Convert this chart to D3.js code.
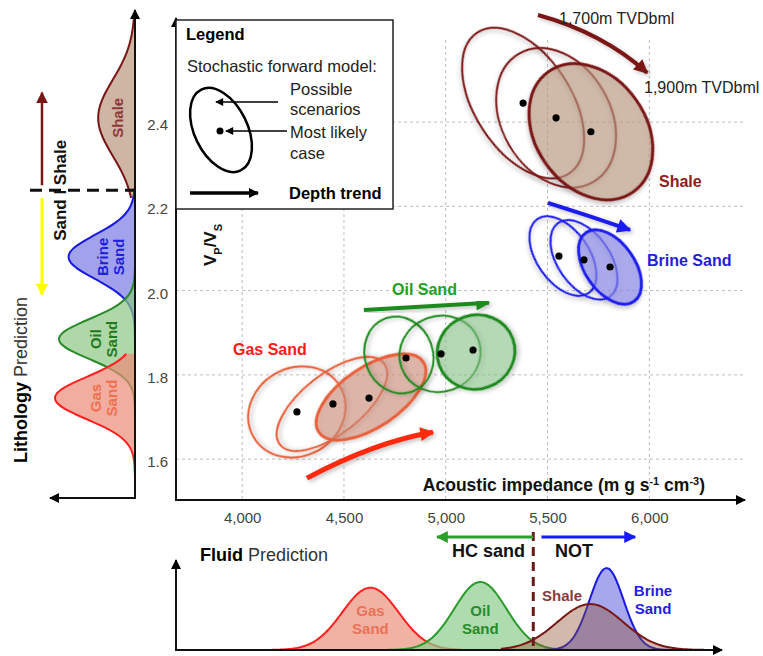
<!DOCTYPE html>
<html><head><meta charset="utf-8">
<script src="https://cdn.jsdelivr.net/npm/d3@7"></script>
<style>
body{margin:0;background:#fff;}
svg{display:block;font-family:"Liberation Sans",Arial,sans-serif;}
</style></head>
<body><svg id="c" width="763" height="656"></svg>
<script>
// ---------- DATA ----------
const xTicks = [4000, 4500, 5000, 5500, 6000];
const yTicks = [1.6, 1.8, 2.0, 2.2, 2.4];

// ellipses: [AI centre, Vp/Vs centre, AI spread, Vp/Vs spread, tilt(deg)]
const shaleEll = [[5380, 2.445, 413, 0.114, 57], [5542, 2.410, 364, 0.129, 60], [5713, 2.377, 361, 0.131, 55]];
const brineEll = [[5576, 2.082, 221, 0.062, 55], [5679, 2.073, 221, 0.062, 55], [5807, 2.056, 206, 0.059, 55]];
const oilEll   = [[4770, 1.847, 167, 0.0926, -20], [4972, 1.850, 201, 0.090, -20], [5149, 1.854, 192, 0.0878, -20]];
const gasEll   = [[4269, 1.712, 246, 0.1045, -30], [4441, 1.731, 324, 0.0712, -38], [4633, 1.7475, 309, 0.0712, -34]];

// most likely cases
const shaleDots = [[5380, 2.445], [5542, 2.410], [5713, 2.377]];
const brineDots = [[5556, 2.082], [5679, 2.073], [5807, 2.056]];
const oilDots   = [[4805, 1.840], [4977, 1.850], [5134, 1.859]];
const gasDots   = [[4269, 1.712], [4446, 1.731], [4623, 1.745]];

// depth trend arrows: start, control, end  (AI, Vp/Vs)
const shaleTrend = [[5453, 2.654], [5770, 2.612], [5989, 2.517]];
const brineTrend = [[5502, 2.208], [5700, 2.178], [5905, 2.144]];
const oilTrend   = [[4598, 1.954], [4900, 1.963], [5212, 1.971]];
const gasTrend   = [[4318, 1.555], [4652, 1.641], [4937, 1.664]];

// lithology prediction (Vp/Vs densities)
const lithNames  = ["Shale", "Brine Sand", "Oil Sand", "Gas Sand"];
const lithMeans  = [2.41, 2.080, 1.885, 1.745];
const lithSds    = [0.09, 0.052, 0.047, 0.05];
const lithPeaks  = [0.46, 0.83, 0.95, 1.0];
const lithRanges = [[2.22, 2.65], [1.85, 2.245], [1.68, 2.05], [1.55, 1.85]];

// fluid prediction (AI densities)
const fluidNames  = ["Gas Sand", "Oil Sand", "Brine Sand", "Shale"];
const fluidMeans  = [4630, 5170, 5790, 5710];
const fluidSds    = [138, 128, 84, 162];
const fluidPeaks  = [0.76, 0.83, 1.0, 0.56];
const fluidRanges = [[4038, 5080], [4608, 5605], [5384, 6268], [5271, 6288]];
const fluidCut = 5430;
const hcArrow = [5430, 4957];
const notArrow = [5470, 5930];

// ---------- CHART ----------
const svg = d3.select("#c");
const FONT = '"Liberation Sans",Arial,sans-serif';
const x = d3.scaleLinear().domain([3675, 6470]).range([176, 745]);
const y = d3.scaleLinear().domain([1.503, 2.647]).range([500, 18]);
const litW = d3.scaleLinear().domain([0, 1]).range([135, 55]);
const fluH = d3.scaleLinear().domain([0, 1]).range([650, 568]);

const defs = svg.append("defs");
function marker(id, color, w, h) {
  const m = defs.append("marker").attr("id", id).attr("markerUnits", "userSpaceOnUse")
    .attr("viewBox", "0 0 10 10").attr("refX", 9).attr("refY", 5)
    .attr("markerWidth", w).attr("markerHeight", h).attr("orient", "auto");
  m.append("path").attr("d", "M0,0 L10,5 L0,10 Z").attr("fill", color);
}
marker("mBlack", "#000", 11, 10);
marker("mBlackS", "#000", 9, 8);
marker("mShale", "#7a1515", 16, 14);
marker("mBrine", "#1a1aee", 16, 14);
marker("mOil", "#1f8a1f", 16, 14);
marker("mGas", "#ff2a10", 16, 14);
marker("mYellow", "#ffff00", 12, 12);
marker("mMaroon", "#7a1515", 12, 12);
marker("mGreen", "#2aa02a", 12, 12);
marker("mBlue", "#1a1aff", 12, 12);
const sh = defs.append("filter").attr("id", "shadow").attr("x", "-20%").attr("y", "-20%").attr("width", "150%").attr("height", "150%");
sh.append("feDropShadow").attr("dx", 2).attr("dy", 2).attr("stdDeviation", 2).attr("flood-color", "#000").attr("flood-opacity", 0.25);

// gridlines
const grid = svg.append("g").attr("stroke", "#bdbdbd").attr("stroke-dasharray", "3,3").attr("stroke-width", 1);
yTicks.forEach(t => grid.append("line").attr("x1", 176).attr("x2", 745).attr("y1", y(t)).attr("y2", y(t)));
xTicks.forEach(t => grid.append("line").attr("x1", x(t)).attr("x2", x(t)).attr("y1", 40).attr("y2", 500));

// axes
const xAxis = svg.append("g").attr("transform", "translate(0,500)")
  .call(d3.axisBottom(x).tickValues(xTicks).tickFormat(d3.format(",")).tickSize(0).tickPadding(12));
xAxis.select(".domain").remove();
xAxis.selectAll("text").attr("font-size", 15).attr("fill", "#444").attr("font-family", FONT);
const yAxis = svg.append("g").attr("transform", "translate(176,0)")
  .call(d3.axisLeft(y).tickValues(yTicks).tickFormat(d3.format(".1f")).tickSize(0).tickPadding(8));
yAxis.select(".domain").remove();
yAxis.selectAll("text").attr("font-size", 15).attr("fill", "#444").attr("font-family", FONT).attr("dy", "0.5em");

svg.append("line").attr("x1", 176).attr("y1", 500).attr("x2", 745).attr("y2", 500)
  .attr("stroke", "#111").attr("stroke-width", 2).attr("marker-end", "url(#mBlack)");
svg.append("line").attr("x1", 176).attr("y1", 501).attr("x2", 176).attr("y2", 18)
  .attr("stroke", "#111").attr("stroke-width", 2).attr("marker-end", "url(#mBlack)");

// axis titles
const xt = svg.append("text").attr("x", 705).attr("y", 491).attr("text-anchor", "end")
  .attr("font-size", 17.5).attr("font-weight", "bold").attr("fill", "#111");
xt.append("tspan").text("Acoustic impedance (m g s");
xt.append("tspan").text("-1").attr("font-size", 11).attr("baseline-shift", "super");
xt.append("tspan").text(" cm");
xt.append("tspan").text("-3").attr("font-size", 11).attr("baseline-shift", "super");
xt.append("tspan").text(")");

const yt = svg.append("text").attr("transform", "translate(216,245) rotate(-90)").attr("text-anchor", "middle")
  .attr("font-size", 17).attr("font-weight", "bold").attr("fill", "#111");
yt.append("tspan").text("V");
yt.append("tspan").text("P").attr("font-size", 11).attr("baseline-shift", "sub");
yt.append("tspan").text("/V");
yt.append("tspan").text("S").attr("font-size", 11).attr("baseline-shift", "sub");

// legend box
const lg = svg.append("g");
lg.append("rect").attr("x", 176).attr("y", 20).attr("width", 217).attr("height", 189)
  .attr("fill", "#fff").attr("stroke", "#222").attr("stroke-width", 1.5);
lg.append("text").attr("x", 186).attr("y", 40).text("Legend").attr("font-size", 16.5).attr("font-weight", "bold");
lg.append("text").attr("x", 187).attr("y", 72).text("Stochastic forward model:").attr("font-size", 16.5).attr("fill", "#222");
lg.append("ellipse").attr("cx", 221).attr("cy", 130).attr("rx", 45).attr("ry", 26.5)
  .attr("transform", "rotate(64 221 130)").attr("fill", "none").attr("stroke", "#000").attr("stroke-width", 2.5);
lg.append("circle").attr("cx", 220).attr("cy", 131).attr("r", 3.5).attr("fill", "#000");
lg.append("line").attr("x1", 278).attr("y1", 102).attr("x2", 216).attr("y2", 102).attr("stroke", "#000").attr("stroke-width", 1.5).attr("marker-end", "url(#mBlackS)");
lg.append("line").attr("x1", 287).attr("y1", 131).attr("x2", 226).attr("y2", 131).attr("stroke", "#000").attr("stroke-width", 1.5).attr("marker-end", "url(#mBlackS)");
[["Possible", 95], ["scenarios", 115], ["Most likely", 138], ["case", 159]].forEach(d =>
  lg.append("text").attr("x", 290).attr("y", d[1]).text(d[0]).attr("font-size", 16.5).attr("fill", "#222"));
lg.append("line").attr("x1", 190).attr("y1", 193).attr("x2", 258).attr("y2", 193).attr("stroke", "#000").attr("stroke-width", 3.5).attr("marker-end", "url(#mBlack)");
lg.append("text").attr("x", 289).attr("y", 199).text("Depth trend").attr("font-size", 16.5).attr("font-weight", "bold");

// ellipses
function drawEllipses(data, stroke, fill, filledIdx) {
  const g = svg.append("g");
  data.forEach((d, i) => {
    const cx = x(d[0]), cy = y(d[1]);
    const rx = x(d[0] + d[2]) - cx, ry = y(d[1]) - y(d[1] + d[3]);
    g.append("ellipse").attr("cx", cx).attr("cy", cy).attr("rx", rx).attr("ry", ry)
      .attr("transform", `rotate(${d[4]} ${cx} ${cy})`)
      .attr("fill", i === filledIdx ? fill : "none")
      .attr("stroke", stroke).attr("stroke-width", i === filledIdx ? 3 : 2)
      .attr("filter", "url(#shadow)");
  });
}
function drawDots(data) {
  svg.append("g").selectAll("circle").data(data).join("circle")
    .attr("cx", d => x(d[0])).attr("cy", d => y(d[1])).attr("r", 3.6).attr("fill", "#000");
}
function drawTrend(p, color, mk, w) {
  const path = d3.path();
  path.moveTo(x(p[0][0]), y(p[0][1]));
  path.quadraticCurveTo(x(p[1][0]), y(p[1][1]), x(p[2][0]), y(p[2][1]));
  svg.append("path").attr("d", path.toString()).attr("fill", "none").attr("stroke", color)
    .attr("stroke-width", w).attr("marker-end", `url(#${mk})`).attr("filter", "url(#shadow)");
}

drawEllipses(shaleEll, "#7a1515", "rgba(190,155,130,0.6)", 2);
drawEllipses(brineEll, "#1a1aee", "rgba(140,140,235,0.65)", 2);
drawEllipses(gasEll, "#e8603a", "rgba(210,140,120,0.55)", 2);
drawEllipses(oilEll, "#1f8a1f", "rgba(140,200,140,0.55)", 2);
drawDots(shaleDots); drawDots(brineDots); drawDots(oilDots); drawDots(gasDots);
drawTrend(shaleTrend, "#7a1515", "mShale", 4);
drawTrend(brineTrend, "#1a1aee", "mBrine", 4);
drawTrend(oilTrend, "#1f8a1f", "mOil", 4);
drawTrend(gasTrend, "#ff2a10", "mGas", 5);

// main labels
const lab = (t, px, py, c, s, b) => svg.append("text").attr("x", px).attr("y", py).text(t)
  .attr("font-size", s).attr("fill", c).attr("font-weight", b ? "bold" : "normal");
lab("1,700m TVDbml", 559, 24, "#222", 16, false);
lab("1,900m TVDbml", 644, 93, "#222", 16, false);
lab("Shale", 659, 187, "#8b2020", 16, true);
lab("Brine Sand", 647, 266, "#1f1fd8", 16, true);
lab("Oil Sand", 392, 295, "#22a022", 16, true);
lab("Gas Sand", 233, 355, "#ff1a1a", 16, true);

// ---------- Lithology prediction (left) ----------
const lithStroke = ["#7a1515", "#1a1adf", "#2a8a2a", "#ff2020"];
const lithFill = ["rgba(185,150,125,0.7)", "rgba(130,130,230,0.75)", "rgba(140,200,130,0.7)", "rgba(235,140,120,0.7)"];
lithNames.forEach((n, i) => {
  const vs = d3.range(lithRanges[i][0], lithRanges[i][1] + 1e-9, 0.003);
  const f = v => lithPeaks[i] * Math.exp(-((v - lithMeans[i]) ** 2) / (2 * lithSds[i] ** 2));
  const area = d3.area().y(v => y(v)).x0(litW(0)).x1(v => litW(f(v))).curve(d3.curveBasis);
  svg.append("path").attr("d", area(vs)).attr("fill", lithFill[i]);
  const line = d3.line().y(v => y(v)).x(v => litW(f(v))).curve(d3.curveBasis);
  svg.append("path").attr("d", line(vs)).attr("fill", "none").attr("stroke", lithStroke[i]).attr("stroke-width", 2);
});
svg.append("line").attr("x1", 135).attr("y1", 499).attr("x2", 135).attr("y2", 10)
  .attr("stroke", "#111").attr("stroke-width", 2).attr("marker-end", "url(#mBlack)");
svg.append("line").attr("x1", 136).attr("y1", 498).attr("x2", 50).attr("y2", 498)
  .attr("stroke", "#111").attr("stroke-width", 2).attr("marker-end", "url(#mBlack)");

const rlab = (lines, px, py, c, s) => {
  const t = svg.append("text").attr("transform", `translate(${px},${py}) rotate(-90)`).attr("text-anchor", "middle")
    .attr("font-size", s).attr("font-weight", "bold").attr("fill", c);
  lines.forEach((l, k) => t.append("tspan").attr("x", 0).attr("dy", k === 0 ? 0 : "1.05em").text(l));
};
rlab(["Shale"], 123, y(2.41), "#8b3a3a", 15);
rlab(["Brine", "Sand"], 108, y(2.08), "#2020e0", 15);
rlab(["Oil", "Sand"], 101, y(1.885), "#1f7a1f", 15);
rlab(["Gas", "Sand"], 101, y(1.745), "#f07050", 15);

svg.append("line").attr("x1", 30).attr("x2", 135).attr("y1", y(2.238)).attr("y2", y(2.238))
  .attr("stroke", "#111").attr("stroke-width", 3).attr("stroke-dasharray", "12,7");
svg.append("line").attr("x1", 42).attr("x2", 42).attr("y1", y(2.25)).attr("y2", y(2.47))
  .attr("stroke", "#7a1515").attr("stroke-width", 2.5).attr("marker-end", "url(#mMaroon)");
svg.append("line").attr("x1", 42).attr("x2", 42).attr("y1", y(2.22)).attr("y2", y(1.99))
  .attr("stroke", "#ffff00").attr("stroke-width", 3).attr("marker-end", "url(#mYellow)");
svg.append("text").attr("transform", `translate(66,${y(2.238)}) rotate(-90)`).attr("text-anchor", "middle")
  .attr("font-size", 17).attr("font-weight", "bold").attr("fill", "#111").text("Sand I Shale");
const lt = svg.append("text").attr("transform", "translate(27,380) rotate(-90)").attr("text-anchor", "middle").attr("font-size", 18);
lt.append("tspan").text("Lithology ").attr("font-weight", "bold");
lt.append("tspan").text("Prediction").attr("fill", "#333");

// ---------- Fluid prediction (bottom) ----------
const fluStroke = ["#ff2020", "#2a9a2a", "#1a1adf", "#7a1515"];
const fluFill = ["rgba(235,145,125,0.7)", "rgba(140,205,140,0.7)", "rgba(130,130,230,0.7)", "rgba(140,80,45,0.4)"];
fluidNames.forEach((n, i) => {
  const xs = d3.range(fluidRanges[i][0], fluidRanges[i][1] + 1e-9, 8);
  const f = v => fluidPeaks[i] * Math.exp(-((v - fluidMeans[i]) ** 2) / (2 * fluidSds[i] ** 2));
  const area = d3.area().x(v => x(v)).y0(fluH(0)).y1(v => fluH(f(v))).curve(d3.curveBasis);
  svg.append("path").attr("d", area(xs)).attr("fill", fluFill[i]);
  const line = d3.line().x(v => x(v)).y(v => fluH(f(v))).curve(d3.curveBasis);
  svg.append("path").attr("d", line(xs)).attr("fill", "none").attr("stroke", fluStroke[i]).attr("stroke-width", 2);
});
svg.append("line").attr("x1", 175).attr("y1", 650).attr("x2", 722).attr("y2", 650)
  .attr("stroke", "#111").attr("stroke-width", 2).attr("marker-end", "url(#mBlack)");
svg.append("line").attr("x1", 176).attr("y1", 651).attr("x2", 176).attr("y2", 560)
  .attr("stroke", "#111").attr("stroke-width", 2).attr("marker-end", "url(#mBlack)");
svg.append("line").attr("x1", x(fluidCut)).attr("x2", x(fluidCut)).attr("y1", 532).attr("y2", 648)
  .attr("stroke", "#6b1a1a").attr("stroke-width", 3).attr("stroke-dasharray", "9,6");
svg.append("line").attr("x1", x(hcArrow[0])).attr("x2", x(hcArrow[1])).attr("y1", 537).attr("y2", 537)
  .attr("stroke", "#2aa02a").attr("stroke-width", 3).attr("marker-end", "url(#mGreen)");
svg.append("line").attr("x1", x(notArrow[0])).attr("x2", x(notArrow[1])).attr("y1", 537).attr("y2", 537)
  .attr("stroke", "#1a1aff").attr("stroke-width", 3).attr("marker-end", "url(#mBlue)");
svg.append("text").attr("x", 525).attr("y", 557).attr("text-anchor", "end").text("HC sand")
  .attr("font-size", 18).attr("font-weight", "bold").attr("fill", "#111");
svg.append("text").attr("x", 555).attr("y", 557).text("NOT")
  .attr("font-size", 18).attr("font-weight", "bold").attr("fill", "#111");
const ft = svg.append("text").attr("x", 200).attr("y", 561).attr("font-size", 18);
ft.append("tspan").text("Fluid ").attr("font-weight", "bold");
ft.append("tspan").text("Prediction").attr("fill", "#333");

const blab = (lines, px, py, c, anchor) => {
  const t = svg.append("text").attr("x", px).attr("y", py).attr("text-anchor", anchor)
    .attr("font-size", 15).attr("font-weight", "bold").attr("fill", c);
  lines.forEach((l, k) => t.append("tspan").attr("x", px).attr("dy", k === 0 ? 0 : "1.2em").text(l));
};
blab(["Gas", "Sand"], x(4630), 616, "#e8735a", "middle");
blab(["Oil", "Sand"], x(5170), 616, "#2a8a2a", "middle");
blab(["Shale"], 542, 601, "#8b3a3a", "start");
blab(["Brine", "Sand"], 653, 596, "#1f1fe0", "middle");
</script></body></html>
